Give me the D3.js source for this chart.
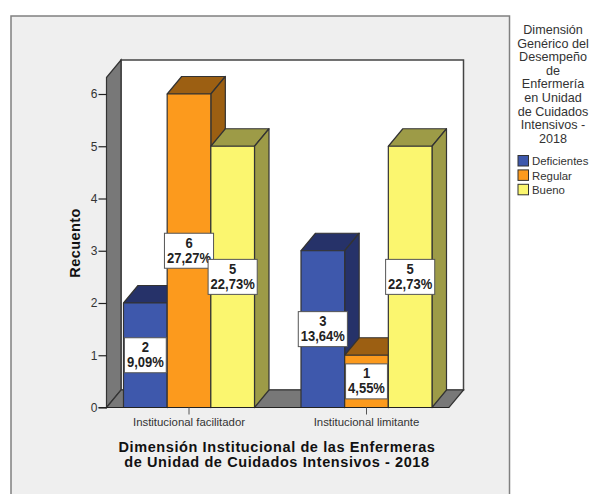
<!DOCTYPE html>
<html>
<head>
<meta charset="utf-8">
<script src="https://cdn.jsdelivr.net/npm/d3@7"></script>
<style>
html,body{margin:0;padding:0;background:#fff;overflow:hidden}
svg{display:block}
text{font-family:"Liberation Sans",Arial,sans-serif}
</style>
</head>
<body>
<svg id="chart" width="593" height="494"></svg>
<script>
const categories = ["Institucional facilitador", "Institucional limitante"];
const seriesNames = ["Deficientes", "Regular", "Bueno"];
const deficientes = [2, 3];
const regular = [6, 1];
const bueno = [5, 5];
const deficientesPct = ["9,09%", "13,64%"];
const regularPct = ["27,27%", "4,55%"];
const buenoPct = ["22,73%", "22,73%"];
const frontColors = ["#3e58ac", "#fc9a1d", "#fbf66f"];
const sideColors = ["#263269", "#9c5f12", "#9d9b47"];
const yTicks = [0, 1, 2, 3, 4, 5, 6];
const legendTitle = ["Dimensión", "Genérico del", "Desempeño", "de", "Enfermería", "en Unidad", "de Cuidados", "Intensivos -", "2018"];
const xTitle = ["Dimensión Institucional de las Enfermeras", "de Unidad de Cuidados Intensivos - 2018"];

const values = [deficientes, regular, bueno];
const pcts = [deficientesPct, regularPct, buenoPct];

const svg = d3.select("#chart");
const depthX = 14.5, depthY = 17.5;
const y = d3.scaleLinear().domain([0, 6]).range([407.5, 94]);
const x0 = d3.scaleBand().domain(categories).range([100.25, 455.25]);
const x1 = d3.scaleBand().domain(seriesNames).range([0, 131]);
const yTop = 77.5;
const left = 106.5, right = 449;
const edge = "#333";

// Chart panel, open at the bottom of the page
svg.append("rect").attr("x", 11).attr("y", 16).attr("width", 498.5).attr("height", 490)
  .attr("fill", "#efefef").attr("stroke", "#808080").attr("stroke-width", 1.5);

// 3D box: back wall, left wall, floor
const poly = pts => pts.map(p => p.join(",")).join(" ");
svg.append("rect")
  .attr("x", left + depthX).attr("y", yTop - depthY)
  .attr("width", right - left).attr("height", y(0) - yTop)
  .attr("fill", "#fff").attr("stroke", "#444").attr("stroke-width", 1.5);
svg.append("polygon")
  .attr("points", poly([[left, yTop], [left + depthX, yTop - depthY], [left + depthX, y(0) - depthY], [left, y(0)]]))
  .attr("fill", "#787878").attr("stroke", "#333").attr("stroke-width", 1.2);
svg.append("polygon")
  .attr("points", poly([[left, y(0)], [left + depthX, y(0) - depthY], [right + depthX, y(0) - depthY], [right, y(0)]]))
  .attr("fill", "#787878").attr("stroke", "#333").attr("stroke-width", 1.2);

// Bars, painted left to right so each one covers its neighbour's side face
const barLayer = svg.append("g");
const bars = [];
categories.forEach((cat, c) => {
  seriesNames.forEach((name, s) => {
    bars.push({cat, name, s, value: values[s][c], pct: pcts[s][c],
      x: x0(cat) + x0.bandwidth() / 2 - 65.5 + x1(name)});
  });
});
bars.forEach(b => {
  const w = x1.bandwidth(), top = y(b.value), base = y(0);
  const g = barLayer.append("g").attr("stroke", edge).attr("stroke-width", 1.2).attr("stroke-linejoin", "round");
  g.append("polygon").attr("fill", sideColors[b.s])
    .attr("points", poly([[b.x, top], [b.x + depthX, top - depthY], [b.x + w + depthX, top - depthY], [b.x + w, top]]));
  g.append("polygon").attr("fill", sideColors[b.s])
    .attr("points", poly([[b.x + w, top], [b.x + w + depthX, top - depthY], [b.x + w + depthX, base - depthY], [b.x + w, base]]));
  g.append("rect").attr("fill", frontColors[b.s])
    .attr("x", b.x).attr("y", top).attr("width", w).attr("height", base - top);
});

// Value labels at the middle of each bar; the narrowed type keeps the boxes tight
const labelSqueeze = 0.93;
bars.forEach(b => {
  const cx = b.x + x1.bandwidth() / 2;
  const cy = y(b.value / 2);
  const g = svg.append("g").attr("transform", `translate(${cx},${cy})`);
  const box = g.append("rect").attr("fill", "#fff").attr("stroke", "#555").attr("stroke-width", 1);
  const t = g.append("text").attr("text-anchor", "middle").attr("transform", `scale(${labelSqueeze},1)`)
    .attr("font-size", 14).attr("font-weight", "bold").attr("fill", "#222");
  t.append("tspan").attr("x", 0).attr("y", -3).text(b.value);
  t.append("tspan").attr("x", 0).attr("y", 12).text(b.pct);
  const w = t.node().getBBox().width * labelSqueeze + 5;
  box.attr("x", -w / 2).attr("y", -17.5).attr("width", w).attr("height", 35);
});

// Value axis
const yAxis = d3.axisLeft(y).tickValues(yTicks).tickSize(8).tickPadding(1).tickFormat(d3.format("d"));
const gy = svg.append("g").attr("transform", `translate(${left},0)`).call(yAxis);
gy.select(".domain").remove();
gy.selectAll("line").attr("stroke", "#222").attr("stroke-width", 1.2);
gy.selectAll("text").attr("font-size", 12).attr("fill", "#333").style("font-family", '"Liberation Sans",Arial,sans-serif');

// Category axis
const xAxis = d3.axisBottom(x0).tickSize(7).tickPadding(3);
const gx = svg.append("g").attr("transform", `translate(0,${y(0)})`).call(xAxis);
gx.select(".domain").attr("d", `M${left - 8},0H${right}`).attr("stroke", "#222").attr("stroke-width", 1.2);
gx.selectAll("line").attr("stroke", "#555");
gx.selectAll("text").attr("font-size", 11.4).attr("fill", "#333").style("font-family", '"Liberation Sans",Arial,sans-serif');

// Axis titles
svg.append("text").attr("transform", "translate(80,243) rotate(-90)")
  .attr("text-anchor", "middle").attr("font-size", 14.5).attr("font-weight", "bold").attr("letter-spacing", 0.4).attr("fill", "#111")
  .text("Recuento");
svg.append("g").selectAll("text").data(xTitle).join("text")
  .attr("x", 277).attr("y", (d, i) => 451.5 + i * 15)
  .attr("text-anchor", "middle").attr("font-size", 14.5).attr("font-weight", "bold")
  .attr("letter-spacing", 0.6).attr("fill", "#111")
  .text(d => d);

// Legend
svg.append("g").selectAll("text").data(legendTitle).join("text")
  .attr("x", 553).attr("y", (d, i) => 34 + i * 13.6)
  .attr("text-anchor", "middle").attr("font-size", 12.6).attr("fill", "#333")
  .text(d => d);
const lg = svg.append("g").selectAll("g").data(seriesNames).join("g")
  .attr("transform", (d, i) => `translate(518,${155.5 + i * 14.4})`);
lg.append("rect").attr("width", 10.5).attr("height", 10.5)
  .attr("fill", (d, i) => frontColors[i]).attr("stroke", "#333").attr("stroke-width", 1);
lg.append("text").attr("x", 14).attr("y", 9.8).attr("font-size", 11.4).attr("fill", "#333").text(d => d);
</script>
</body>
</html>
